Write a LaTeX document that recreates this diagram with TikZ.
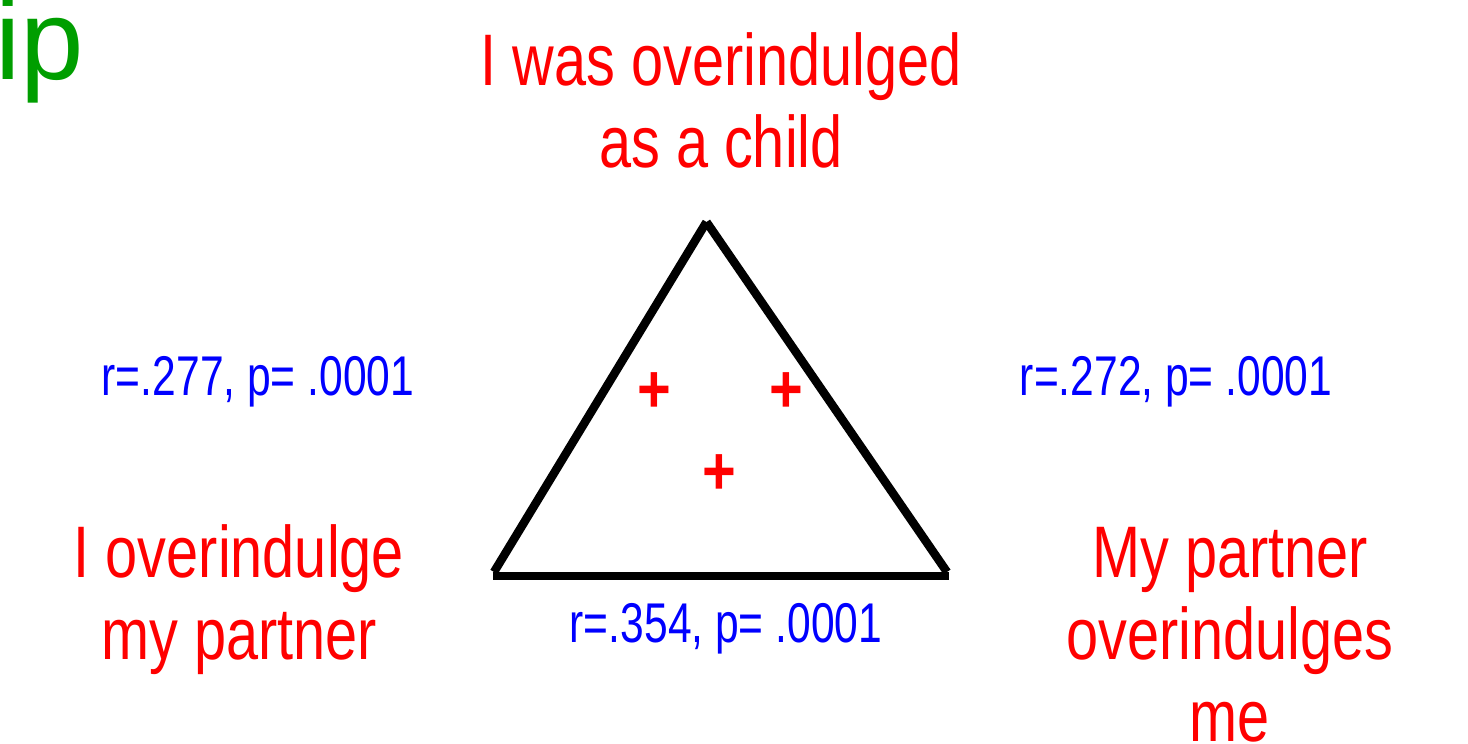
\documentclass[tikz,border=0pt]{standalone}
\usepackage{fontspec}
\setmainfont{Liberation Sans}
\newfontfamily\redfam[FakeStretch=0.79]{Liberation Sans}
\newfontfamily\bluefam[FakeStretch=0.76]{Liberation Sans}
\newfontfamily\plusfam[FakeStretch=0.85]{Liberation Sans Bold}
\newfontfamily\greenfam{Liberation Sans}
\definecolor{ttlgreen}{RGB}{0,158,0}
\definecolor{lblred}{RGB}{255,0,0}
\definecolor{lblblue}{RGB}{0,0,255}
\begin{document}
\begin{tikzpicture}[x=1pt,y=-1pt,
  redlbl/.style={inner sep=0pt, anchor=base, align=center, text=lblred,
    font=\redfam\fontsize{73}{82}\selectfont},
  bluelbl/.style={inner sep=0pt, anchor=base, text=lblblue,
    font=\bluefam\fontsize{56}{60}\selectfont},
  plussign/.style={inner sep=0pt, anchor=base, text=lblred,
    font=\plusfam\fontsize{68}{70}\selectfont},
  edge/.style={draw=black, line width=8.5pt, line cap=butt}]
\useasboundingbox (0,0) rectangle (1468,744);
% title fragment
\node[inner sep=0pt, anchor=base west, text=ttlgreen,
  font=\greenfam\fontsize{114}{120}\selectfont] (title) at (-5,79) {ip};
% triangle corners
\coordinate (apex) at (706.5,222);
\coordinate (bl) at (494,572);
\coordinate (br) at (947,572);
\coordinate (bll) at (492.5,576);
\coordinate (brr) at (948.5,576);
\draw[edge] (apex) -- (bl);
\draw[edge] (apex) -- (br);
\draw[edge] (bll) -- (brr);
% plus signs
\node[plussign] (p1) at (654,412) {+};
\node[plussign] (p2) at (786,412) {+};
\node[plussign] (p3) at (719,494) {+};
% labels (anchor base = baseline of the last line)
\node[redlbl] (top) at (721,167) {I was overindulged\\as a child};
\node[redlbl] (left) at (239,659) {I overindulge\\my partner};
\node[redlbl] (right) at (1230,741) {My partner\\overindulges\\me};
\node[bluelbl] (rl) at (258,395) {r=.277, p= .0001};
\node[bluelbl] (rr) at (1176,395) {r=.272, p= .0001};
\node[bluelbl] (rb) at (726,642) {r=.354, p= .0001};
\end{tikzpicture}
\end{document}
